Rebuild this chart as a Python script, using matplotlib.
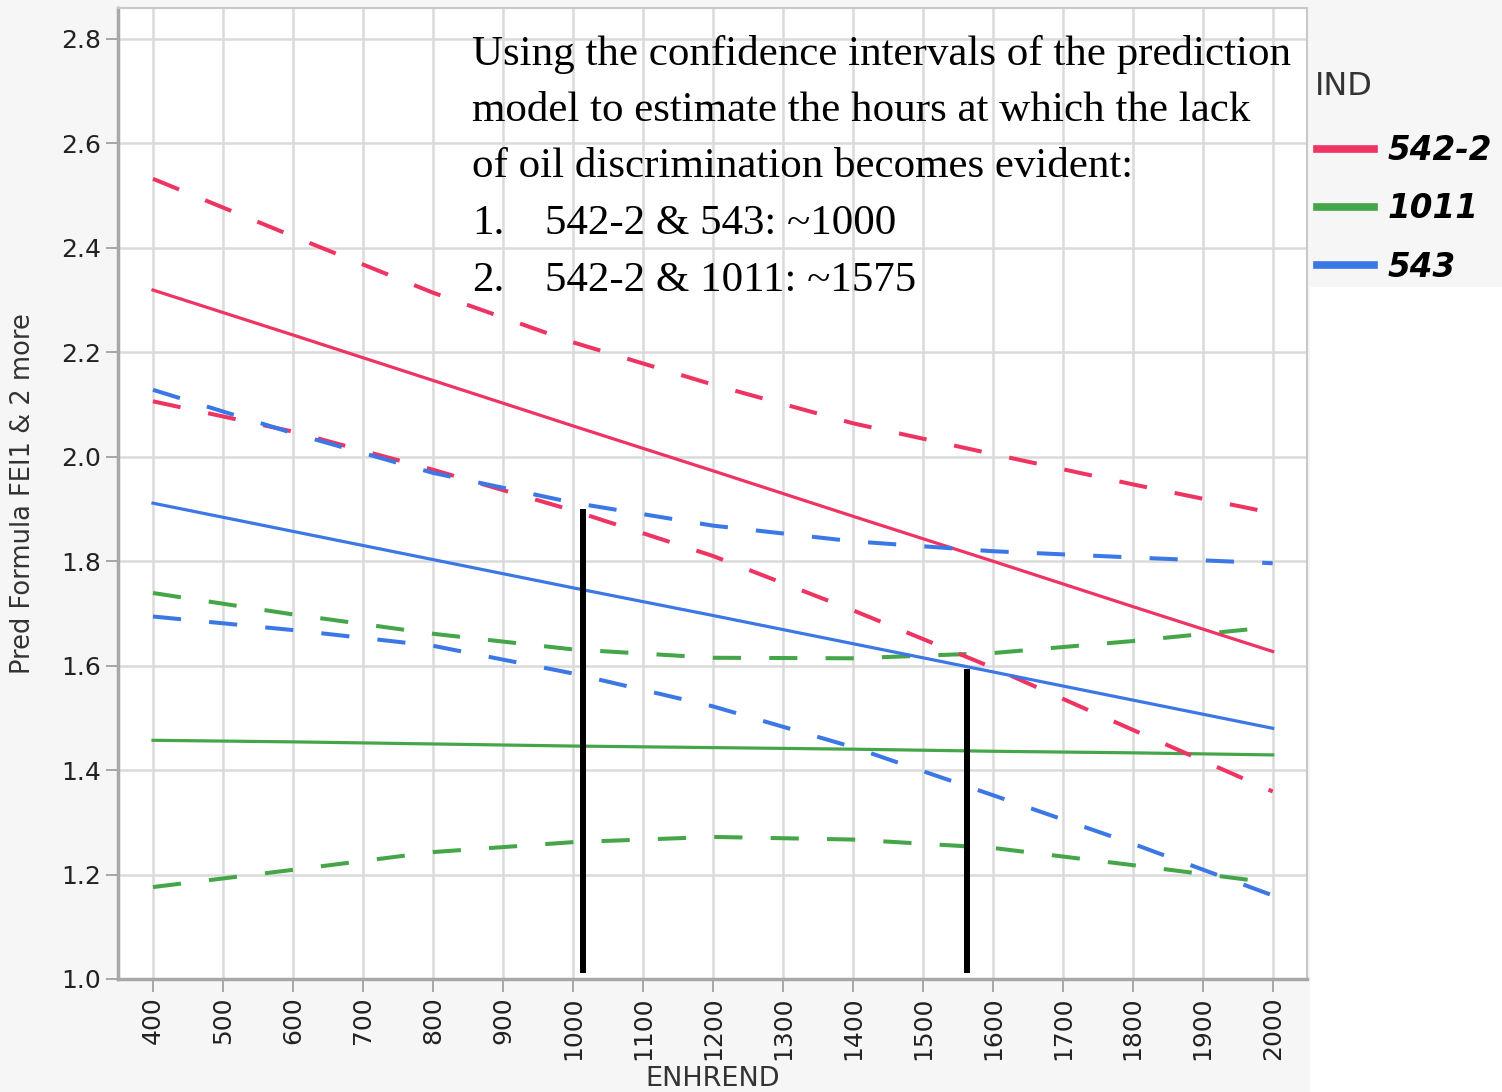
import matplotlib
matplotlib.use("Agg")
import matplotlib.pyplot as plt
from matplotlib.lines import Line2D
from matplotlib.patches import Rectangle

# values (ENHREND hours)
hours = [400, 600, 800, 1000, 1200, 1400, 1600, 1800, 2000]

pred_542_2 = [2.319, 2.233, 2.146, 2.059, 1.973, 1.886, 1.800, 1.713, 1.627]
upper_542_2 = [2.532, 2.422, 2.314, 2.219, 2.138, 2.064, 2.005, 1.947, 1.892]
lower_542_2 = [2.106, 2.048, 1.975, 1.897, 1.810, 1.706, 1.596, 1.477, 1.359]

pred_1011 = [1.457, 1.454, 1.450, 1.446, 1.443, 1.440, 1.436, 1.433, 1.429]
upper_1011 = [1.739, 1.698, 1.661, 1.631, 1.615, 1.614, 1.624, 1.647, 1.674]
lower_1011 = [1.176, 1.209, 1.243, 1.262, 1.272, 1.267, 1.251, 1.218, 1.184]

pred_543 = [1.911, 1.857, 1.803, 1.749, 1.696, 1.642, 1.588, 1.534, 1.480]
upper_543 = [2.128, 2.045, 1.969, 1.912, 1.868, 1.838, 1.819, 1.807, 1.796]
lower_543 = [1.694, 1.668, 1.638, 1.585, 1.522, 1.444, 1.352, 1.259, 1.160]

# hand-drawn markers where the intervals stop overlapping
cutoff_hours = [1014, 1563]
cutoff_tops = [1.900, 1.594]
cutoff_bottom = 1.012

series = ["542-2", "1011", "543"]
note_lines = [
    "Using the confidence intervals of the prediction",
    "model to estimate the hours at which the lack",
    "of oil discrimination becomes evident:",
]
note_items = ["542-2 & 543: ~1000", "542-2 & 1011: ~1575"]

RED = "#ee3462"
GREEN = "#44a648"
BLUE = "#3b78e6"
colors = {"542-2": RED, "1011": GREEN, "543": BLUE}

W, H = 1502, 1092
fig = plt.figure(figsize=(W / 100, H / 100), dpi=100, facecolor="#f6f6f6")
# white strip under the legend, as in the pasted screenshot
fig.patches.append(Rectangle((1310 / W, 0), 1 - 1310 / W, 1 - 287 / H,
                             transform=fig.transFigure, facecolor="white",
                             edgecolor="none", zorder=0))

ax = fig.add_axes([118 / W, 1 - 979 / H, (1307 - 118) / W, (979 - 8) / H])
ax.set_facecolor("white")

dash = (0, (7, 7))
lw_solid, lw_dash = 2.3, 2.9
ax.plot(hours, pred_1011, color=GREEN, lw=lw_solid, zorder=3)
ax.plot(hours, upper_1011, color=GREEN, lw=lw_dash, ls=dash, zorder=3)
ax.plot(hours, lower_1011, color=GREEN, lw=lw_dash, ls=dash, zorder=3)
ax.plot(hours, pred_542_2, color=RED, lw=lw_solid, zorder=3)
ax.plot(hours, upper_542_2, color=RED, lw=lw_dash, ls=dash, zorder=3)
ax.plot(hours, lower_542_2, color=RED, lw=lw_dash, ls=dash, zorder=3)
ax.plot(hours, pred_543, color=BLUE, lw=lw_solid, zorder=4)
ax.plot(hours, upper_543, color=BLUE, lw=lw_dash, ls=dash, zorder=4)
ax.plot(hours, lower_543, color=BLUE, lw=lw_dash, ls=dash, zorder=4)

for xh, top in zip(cutoff_hours, cutoff_tops):
    ax.plot([xh, xh], [cutoff_bottom, top], color="black", lw=4.3,
            solid_capstyle="butt", zorder=5)

ax.set_xlim(350, 2049)
ax.set_ylim(1.0, 2.859)
ax.set_xticks(range(400, 2001, 100))
ax.set_xticklabels([str(v) for v in range(400, 2001, 100)], rotation=90)
ax.set_yticks([1.0 + 0.2 * i for i in range(10)])
ax.set_yticklabels([f"{1.0 + 0.2 * i:.1f}" for i in range(10)])
ax.tick_params(axis="both", labelsize=18, labelcolor="#222222",
               color="#a0a0a0", length=9, width=1.3, direction="out")
ax.grid(True, color="#dadada", linewidth=1.8, zorder=0)
ax.set_axisbelow(True)
for side in ["left", "bottom"]:
    ax.spines[side].set_color("#a8a8a8")
    ax.spines[side].set_linewidth(2.5)
for side in ["top", "right"]:
    ax.spines[side].set_color("#c8c8c8")
    ax.spines[side].set_linewidth(1.5)

ax.set_xlabel("ENHREND", fontsize=19.5, color="#333333", labelpad=4)
ax.set_ylabel("Pred Formula FEI1 & 2 more", fontsize=18.5, color="#333333",
              labelpad=18)

# annotation text (serif, over the plot)
serif = "Liberation Serif"
fs_note = 31
x0 = (472 - 118) / (1307 - 118)
x1 = (545 - 118) / (1307 - 118)
baselines = [65, 121, 177, 234, 291]
to_ax = lambda py: (979 - py) / (979 - 8)
for line, py in zip(note_lines, baselines[:3]):
    ax.text(x0, to_ax(py), line, transform=ax.transAxes, family=serif,
            fontsize=fs_note, va="baseline", ha="left", zorder=6)
for i, (item, py) in enumerate(zip(note_items, baselines[3:])):
    ax.text(x0, to_ax(py), f"{i + 1}.", transform=ax.transAxes, family=serif,
            fontsize=fs_note, va="baseline", ha="left", zorder=6)
    ax.text(x1, to_ax(py), item, transform=ax.transAxes, family=serif,
            fontsize=fs_note, va="baseline", ha="left", zorder=6)

# legend: title placed on its own, entries below
fig.text(1315 / W, 1 - 87 / H, "IND", fontsize=23, color="#333333",
         ha="left", va="center")
handles = [Line2D([], [], color=colors[s], lw=5.5) for s in series]
ax.legend(handles, series, loc="upper left",
          bbox_to_anchor=(1317 / W, 1 - 134 / H),
          bbox_transform=fig.transFigure, frameon=False,
          prop={"size": 23.5, "weight": "bold", "style": "italic"},
          handlelength=1.75, handletextpad=0.4, labelspacing=0.78,
          borderpad=0, borderaxespad=0)

fig.savefig("out.png", dpi=100, facecolor=fig.get_facecolor())
